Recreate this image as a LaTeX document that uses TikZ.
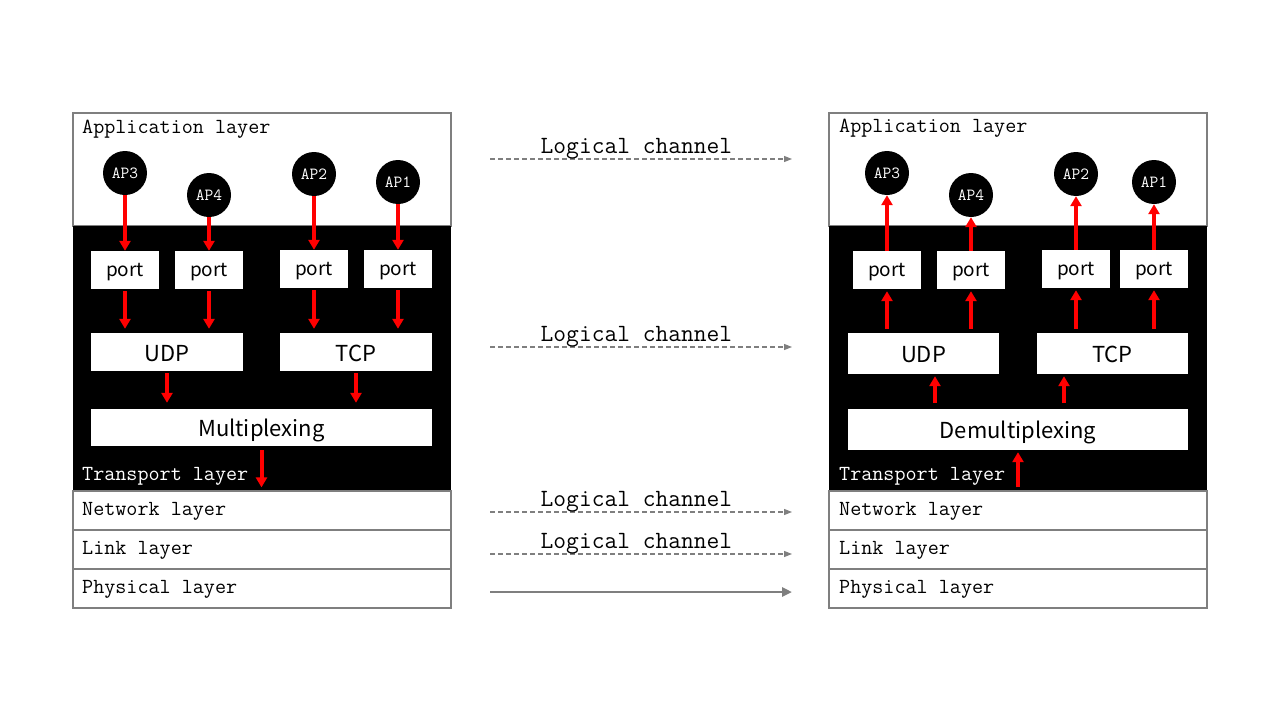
\documentclass[tikz,border=0pt]{standalone}
\usepackage{fontspec}
\setmainfont{Noto Sans CJK SC}
\usetikzlibrary{arrows.meta,graphs}
\definecolor{edgegray}{HTML}{7F7F7F}
\tikzset{
    layerbox/.style={
        inner sep=0,
        draw=edgegray,
        line width=1.2pt,
        fill=white,
        minimum width=378,
        minimum height=39,
    },
    transportbox/.style={
        inner sep=0,
        fill=black,
        minimum width=378,
        minimum height=265,
    },
    layerlabel/.style={
        inner sep=0,
        anchor=base west,
        font=\ttfamily\fontsize{21.5}{21.5}\selectfont,
    },
    procnode/.style={
        inner sep=0,
        circle,
        fill=black,
        text=white,
        minimum size=44,
        font=\ttfamily\fontsize{17}{17}\selectfont,
    },
    portbox/.style={
        inner sep=0,
        fill=white,
        minimum width=68,
        minimum height=38,
        text height=16pt,
        text depth=4pt,
        font=\fontsize{19}{19}\selectfont,
    },
    protobox/.style={
        inner sep=0,
        fill=white,
        minimum width=152,
        minimum height=38,
        text height=18pt,
        text depth=0pt,
        font=\fontsize{22}{22}\selectfont,
    },
    redarrow/.style={
        draw=red,
        line width=4pt,
        >={Triangle[length=10pt,width=11pt]},
    },
    chanarrow/.style={
        draw=edgegray,
        line width=1.1pt,
        dash pattern=on 5pt off 3pt,
        -{Triangle[length=8pt,width=6pt]},
    },
    chanlabel/.style={
        inner sep=0,
        anchor=base,
        yshift=6pt,
        font=\ttfamily\fontsize{24.8}{24.8}\selectfont,
    },
}

\begin{document}
\begin{tikzpicture}[x=1pt,y=-1pt]
    \useasboundingbox (0,0) rectangle (1280,720);

    % sending side
    \node[layerbox, minimum height=113] at (262,169.5) (appL)  {};
    \node[transportbox]                 at (262,358.5) (trL)   {};
    \node[layerbox]                     at (262,510.5) (netL)  {};
    \node[layerbox]                     at (262,549.5) (linkL) {};
    \node[layerbox]                     at (262,588.5) (phyL)  {};

    \node[layerlabel]             at (82,133) {Application layer};
    \node[layerlabel, text=white] at (82,480) {Transport layer};
    \node[layerlabel]             at (82,515) {Network layer};
    \node[layerlabel]             at (82,554) {Link layer};
    \node[layerlabel]             at (82,593) {Physical layer};

    \node[procnode] at (125,173) (ap3L) {AP3};
    \node[procnode] at (209,195) (ap4L) {AP4};
    \node[procnode] at (314,174) (ap2L) {AP2};
    \node[procnode] at (398,182) (ap1L) {AP1};

    \node[portbox] at (125,270) (p3L) {port};
    \node[portbox] at (209,270) (p4L) {port};
    \node[portbox] at (314,269) (p2L) {port};
    \node[portbox] at (398,269) (p1L) {port};

    \node[protobox] at (167,352) (udpL) {UDP};
    \node[protobox] at (356,352) (tcpL) {TCP};
    \node[protobox, minimum width=341, minimum height=37] at (261.5,427.5) (muxL) {Multiplexing};

    % receiving side
    \node[layerbox, minimum height=113] at (1018,169.5) (appR)  {};
    \node[transportbox]                 at (1018,358.5) (trR)   {};
    \node[layerbox]                     at (1018,510.5) (netR)  {};
    \node[layerbox]                     at (1018,549.5) (linkR) {};
    \node[layerbox]                     at (1018,588.5) (phyR)  {};

    \node[layerlabel]             at (839,132) {Application layer};
    \node[layerlabel, text=white] at (839,480) {Transport layer};
    \node[layerlabel]             at (839,515) {Network layer};
    \node[layerlabel]             at (839,554) {Link layer};
    \node[layerlabel]             at (839,593) {Physical layer};

    \node[procnode] at (887,173)  (ap3R) {AP3};
    \node[procnode] at (971,195)  (ap4R) {AP4};
    \node[procnode] at (1076,174) (ap2R) {AP2};
    \node[procnode] at (1154,182) (ap1R) {AP1};

    \node[portbox] at (887,270)  (p3R) {port};
    \node[portbox] at (971,270)  (p4R) {port};
    \node[portbox] at (1076,269) (p2R) {port};
    \node[portbox] at (1154,269) (p1R) {port};

    \node[protobox, minimum width=151, minimum height=41] at (923.5,353.5)  (udpR) {UDP};
    \node[protobox, minimum width=151, minimum height=41] at (1112.5,353.5) (tcpR) {TCP};
    \node[protobox, minimum width=340, minimum height=41] at (1018,429.5) (demuxR) {Demultiplexing};

    % red data paths
    \graph[use existing nodes, edges={redarrow}]{
        ap3L -> p3L ; ap4L -> p4L ; ap2L -> p2L ; ap1L -> p1L ;
        p3R -> ap3R ; p4R -> ap4R ; p2R -> ap2R ; p1R -> ap1R ;
    } ;
    \draw[redarrow, ->, shorten <=2pt, shorten >=4pt] (p3L) -- (p3L |- udpL.north);
    \draw[redarrow, ->, shorten <=2pt, shorten >=4pt] (p4L) -- (p4L |- udpL.north);
    \draw[redarrow, ->, shorten <=2pt, shorten >=4pt] (p2L) -- (p2L |- tcpL.north);
    \draw[redarrow, ->, shorten <=2pt, shorten >=4pt] (p1L) -- (p1L |- tcpL.north);
    \draw[redarrow, ->, shorten <=2pt, shorten >=6pt] (udpL) -- (udpL |- muxL.north);
    \draw[redarrow, ->, shorten <=2pt, shorten >=6pt] (tcpL) -- (tcpL |- muxL.north);
    \draw[redarrow, ->, shorten <=4pt, shorten >=3pt] (muxL) -- (muxL |- netL.north);

    \draw[redarrow, ->, shorten <=4pt, shorten >=2pt] (p3R |- udpR.north) -- (p3R);
    \draw[redarrow, ->, shorten <=4pt, shorten >=2pt] (p4R |- udpR.north) -- (p4R);
    \draw[redarrow, ->, shorten <=4pt, shorten >=2pt] (p2R |- tcpR.north) -- (p2R);
    \draw[redarrow, ->, shorten <=4pt, shorten >=2pt] (p1R |- tcpR.north) -- (p1R);
    \draw[redarrow, ->, shorten <=6pt, shorten >=2pt] (935,409) coordinate (dmU) -- (dmU |- udpR.south);
    \draw[redarrow, ->, shorten <=6pt, shorten >=2pt] (1064,409) coordinate (dmT) -- (dmT |- tcpR.south);
    \draw[redarrow, ->, shorten <=3pt, shorten >=2pt] (netR.north) -- (demuxR);

    % channels between the two stacks
    \coordinate (ch1a) at (490,159); \coordinate (ch1b) at (792,159);
    \coordinate (ch2a) at (490,347); \coordinate (ch2b) at (792,347);
    \coordinate (ch3a) at (490,512); \coordinate (ch3b) at (792,512);
    \coordinate (ch4a) at (490,554); \coordinate (ch4b) at (792,554);
    \coordinate (ch5a) at (490,592); \coordinate (ch5b) at (792,592);

    \draw[chanarrow] (ch1a) -- node[chanlabel, pos=0.485] {Logical channel} (ch1b);
    \draw[chanarrow] (ch2a) -- node[chanlabel, pos=0.485] {Logical channel} (ch2b);
    \draw[chanarrow] (ch3a) -- node[chanlabel, pos=0.485] {Logical channel} (ch3b);
    \draw[chanarrow] (ch4a) -- node[chanlabel, pos=0.485] {Logical channel} (ch4b);
    \draw[chanarrow, solid, line width=2.5pt, -{Triangle[length=10pt,width=9pt]}] (ch5a) -- (ch5b);
\end{tikzpicture}
\end{document}
